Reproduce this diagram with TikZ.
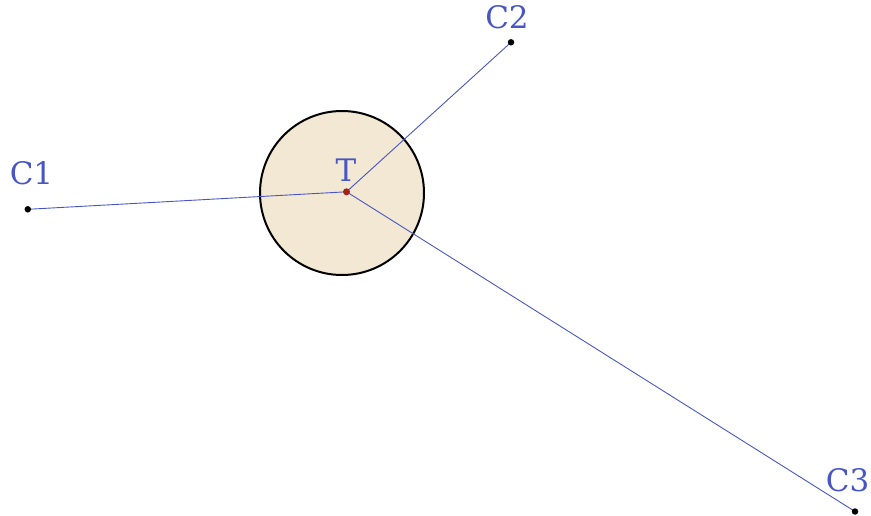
\documentclass[tikz,border=0pt]{standalone}
\usepackage{fontspec}
\setmainfont{DejaVu Serif}
\definecolor{lblue}{RGB}{72,86,196}
\definecolor{beige}{RGB}{242,232,212}
\definecolor{tred}{RGB}{165,35,20}
\begin{document}
\begin{tikzpicture}[x=1pt,y=-1pt,
  conn/.style={draw=lblue,line width=0.9pt},
  lbl/.style={text=lblue,font=\fontsize{31}{31}\selectfont,anchor=base,inner sep=0pt},
  pt/.style={circle,fill=black,inner sep=0pt,minimum size=6.5pt},
  tpt/.style={circle,fill=tred,inner sep=0pt,minimum size=7pt}]
\useasboundingbox (0,0) rectangle (871,516);
\draw[fill=beige,line width=2pt] (342,193) circle[radius=82];
\coordinate (T) at (346.5,191.8);
\coordinate (C1) at (27.8,209.3);
\coordinate (C2) at (511,42.3);
\coordinate (C3) at (855,511.5);
\draw[conn] (T) -- (C1);
\draw[conn] (T) -- (C2);
\draw[conn] (T) -- (C3);
\node[pt] (d1) at (C1) {};
\node[pt] (d2) at (C2) {};
\node[pt] (d3) at (C3) {};
\node[tpt] (dT) at (T) {};
\node[lbl] (l1) at (31.5,185) {C1};
\node[lbl] (l2) at (507,29) {C2};
\node[lbl] (l3) at (847.5,491) {C3};
\node[lbl] (lT) at (346,182) {T};
\end{tikzpicture}
\end{document}
